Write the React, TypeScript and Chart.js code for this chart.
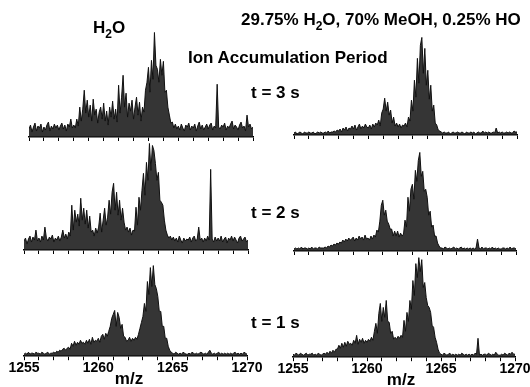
import React, { useEffect, useRef } from "react";
import { Chart, registerables } from "chart.js";

Chart.register(...registerables);

// m/z sampling grid (0.1 step) and axis tick labels
const MZ_MIN = 1255;
const MZ_MAX = 1270;
const MZ_STEP = 0.1;
const MZ: number[] = Array.from({ length: 151 }, (_, i) => +(MZ_MIN + i * MZ_STEP).toFixed(1));
const TICK_LABELS = [1255, 1260, 1265, 1270];

// Relative intensities (one row = 1 m/z unit)
// Left column: H2O ; right column: 29.75% H2O, 70% MeOH, 0.25% HOAc
const H2O_3S = [
  8, 12, 5, 10, 14, 6, 11, 9, 13, 5,
  10, 7, 12, 15, 6, 11, 8, 13, 9, 12,
  7, 11, 14, 8, 12, 6, 13, 10, 18, 9,
  12, 9, 18, 11, 30, 16, 28, 47, 24, 37,
  20, 32, 16, 38, 22, 28, 14, 25, 30, 18,
  34, 16, 26, 12, 30, 20, 36, 18, 28, 15,
  52, 24, 40, 62, 30, 44, 20, 34, 26, 37,
  18, 30, 40, 22, 35, 16, 30, 25, 47, 55,
  70, 45, 77, 58, 105, 72, 68, 55, 78, 62,
  76, 45, 47, 30, 22, 14, 15, 9, 13, 8,
  11, 7, 13, 9, 6, 12, 10, 14, 7, 11,
  9, 13, 6, 11, 15, 8, 12, 7, 10, 13,
  8, 12, 14, 7, 11, 9, 53, 10, 8, 12,
  10, 14, 7, 11, 9, 13, 16, 8, 12, 10,
  7, 12, 15, 9, 11, 6, 22, 10, 13, 8,
  10,
];
const MIX_3S = [
  2, 3, 1, 2, 3, 2, 1, 3, 2, 2,
  3, 2, 2, 3, 1, 2, 3, 2, 3, 2,
  2, 3, 2, 4, 2, 3, 3, 4, 3, 5,
  4, 6, 3, 7, 5, 8, 4, 7, 6, 9,
  6, 10, 5, 8, 11, 6, 9, 7, 11, 8,
  7, 10, 6, 11, 8, 12, 10, 15, 9, 22,
  26, 37, 24, 33, 20, 25, 12, 18, 9, 12,
  8, 11, 7, 10, 9, 12, 8, 18, 14, 35,
  24, 55, 38, 77, 52, 90, 98, 62, 87, 50,
  65, 36, 50, 24, 30, 12, 10, 5, 4, 3,
  2, 3, 2, 2, 3, 1, 2, 3, 2, 2,
  3, 2, 2, 3, 2, 1, 3, 2, 2, 3,
  2, 3, 1, 2, 3, 2, 2, 4, 2, 3,
  2, 3, 2, 2, 3, 2, 7, 2, 3, 2,
  3, 2, 2, 3, 2, 3, 2, 2, 4, 3,
  3,
];
const H2O_2S = [
  9, 12, 6, 11, 14, 8, 13, 10, 20, 9,
  12, 8, 14, 10, 23, 12, 9, 13, 11, 15,
  8, 12, 10, 14, 9, 13, 20, 12, 16, 11,
  18, 14, 45, 20, 40, 28, 36, 24, 52, 30,
  42, 26, 40, 22, 34, 18, 20, 14, 22, 17,
  23, 37, 18, 30, 42, 25, 33, 50, 36, 58,
  67, 40, 58, 35, 50, 30, 42, 28, 20, 23,
  18, 22, 15, 20, 19, 43, 25, 53, 40, 60,
  77, 55, 88, 70, 107, 80, 105, 100, 87, 70,
  78, 50, 48, 45, 30, 20, 15, 12, 14, 10,
  13, 9, 12, 8, 14, 10, 7, 12, 9, 11,
  10, 13, 8, 12, 14, 9, 11, 23, 10, 12,
  8, 12, 9, 14, 10, 81, 11, 8, 13, 9,
  12, 9, 14, 8, 11, 13, 7, 12, 10, 14,
  9, 13, 10, 7, 12, 14, 9, 11, 13, 8,
  10,
];
const MIX_2S = [
  2, 3, 2, 3, 2, 4, 2, 3, 3, 2,
  3, 2, 4, 2, 3, 3, 2, 4, 3, 3,
  3, 4, 3, 5, 4, 6, 5, 7, 6, 8,
  7, 9, 8, 11, 9, 12, 10, 13, 11, 12,
  14, 10, 13, 11, 15, 12, 14, 11, 16, 12,
  13, 11, 15, 12, 16, 14, 21, 19, 30, 46,
  51, 36, 41, 30, 27, 22, 22, 15, 20, 15,
  20, 14, 18, 15, 17, 31, 24, 54, 40, 62,
  67, 52, 81, 70, 91, 99, 75, 80, 60, 62,
  54, 36, 40, 24, 26, 15, 15, 8, 5, 3,
  3, 2, 4, 3, 2, 3, 2, 3, 4, 2,
  3, 2, 3, 4, 2, 3, 2, 3, 2, 3,
  2, 3, 2, 3, 12, 3, 2, 4, 2, 3,
  3, 2, 3, 2, 4, 2, 3, 2, 3, 2,
  2, 3, 3, 2, 3, 2, 4, 2, 3, 3,
  2,
];
const H2O_1S = [
  2, 3, 2, 4, 2, 3, 3, 2, 4, 3,
  3, 2, 4, 3, 2, 3, 4, 2, 3, 3,
  4, 3, 5, 4, 6, 5, 7, 8, 6, 8,
  9, 7, 13, 10, 15, 11, 14, 12, 16, 13,
  14, 12, 16, 13, 17, 12, 19, 14, 16, 15,
  18, 14, 20, 22, 17, 23, 20, 25, 30, 38,
  42, 46, 30, 44, 39, 28, 32, 20, 19, 15,
  16, 19, 15, 18, 16, 19, 17, 22, 28, 34,
  40, 53, 45, 75, 62, 89, 70, 91, 72, 68,
  60, 45, 45, 30, 30, 18, 18, 10, 6, 4,
  3, 2, 4, 3, 2, 3, 2, 4, 3, 2,
  2, 3, 2, 4, 3, 2, 3, 2, 3, 4,
  3, 2, 3, 2, 4, 6, 3, 2, 3, 2,
  3, 4, 2, 3, 2, 3, 2, 3, 2, 3,
  2, 3, 4, 2, 3, 2, 3, 2, 4, 3,
  2,
];
const MIX_1S = [
  3, 2, 4, 3, 2, 4, 3, 2, 3, 4,
  2, 3, 3, 4, 2, 3, 2, 4, 3, 2,
  3, 4, 3, 5, 3, 6, 4, 7, 5, 8,
  8, 12, 9, 14, 10, 15, 11, 16, 13, 14,
  12, 17, 14, 22, 13, 18, 15, 19, 14, 17,
  15, 18, 16, 20, 17, 26, 34, 24, 44, 54,
  36, 50, 40, 57, 36, 35, 24, 26, 18, 20,
  18, 21, 19, 22, 20, 37, 26, 45, 36, 57,
  48, 77, 62, 94, 80, 100, 86, 98, 70, 75,
  60, 52, 50, 45, 32, 30, 20, 15, 8, 4,
  3, 2, 4, 3, 2, 3, 4, 2, 3, 2,
  3, 2, 3, 2, 4, 3, 2, 3, 2, 3,
  2, 3, 2, 4, 3, 19, 2, 3, 2, 3,
  3, 2, 4, 3, 2, 3, 2, 5, 3, 2,
  2, 3, 2, 4, 3, 2, 4, 3, 5, 3,
  3,
];

const Y_MAX = 110; // intensity units mapped onto a 110px tall plot
const PLOT_H = 110;
const FONT = '"Liberation Sans", Arial, Helvetica, sans-serif';

type PanelProps = {
  values: number[];
  left: number;
  right: number;
  base: number;
  labels: boolean;
};

function Panel({ values, left, right, base, labels }: PanelProps) {
  const ref = useRef<HTMLCanvasElement | null>(null);
  const PAD = 24;
  const W = right - left + PAD * 2;
  const H = PLOT_H + (labels ? 22 : 5);

  useEffect(() => {
    const canvas = ref.current!;
    const chart = new Chart(canvas, {
      type: "line",
      data: {
        datasets: [
          {
            data: MZ.map((x, i) => ({ x, y: values[i] })),
            borderColor: "#111",
            backgroundColor: "rgba(25,25,25,0.88)",
            borderWidth: 1,
            pointRadius: 0,
            tension: 0,
            fill: "origin",
          },
        ],
      },
      options: {
        responsive: false,
        maintainAspectRatio: false,
        animation: false,
        events: [],
        layout: { padding: { left: PAD, right: PAD, top: 0, bottom: 0 } },
        plugins: { legend: { display: false }, tooltip: { enabled: false }, title: { display: false } },
        scales: {
          x: {
            type: "linear",
            min: MZ_MIN,
            max: MZ_MAX,
            grid: { display: true, drawOnChartArea: false, drawTicks: true, tickLength: 4, color: "#000", lineWidth: 1 },
            border: { display: true, color: "#000", width: 1.6 },
            ticks: {
              display: labels,
              stepSize: 1,
              autoSkip: false,
              maxRotation: 0,
              minRotation: 0,
              padding: 0,
              color: "#000",
              font: { family: FONT, size: 14, weight: "bold" },
              callback: (v: any) => (TICK_LABELS.includes(Number(v)) ? String(v) : ""),
            },
          },
          y: { display: false, min: 0, max: Y_MAX },
        },
      },
    });
    const ca = chart.chartArea;
    const h = ca.bottom - ca.top;
    if (Math.abs(h - PLOT_H) > 0.01) {
      (chart.options.scales as any).y.max = (Y_MAX * h) / PLOT_H;
      chart.update();
    }
    const ca2 = chart.chartArea;
    canvas.style.left = `${left - ca2.left}px`;
    canvas.style.top = `${base - ca2.bottom}px`;
    return () => chart.destroy();
  }, []);

  return (
    <canvas
      ref={ref}
      width={W}
      height={H}
      style={{ position: "absolute", left: 0, top: 0, width: W, height: H }}
    />
  );
}

const PANELS: PanelProps[] = [
  { values: H2O_3S, left: 29, right: 253, base: 137, labels: false },
  { values: MIX_3S, left: 294, right: 517, base: 135, labels: false },
  { values: H2O_2S, left: 24, right: 248, base: 250, labels: false },
  { values: MIX_2S, left: 294, right: 516, base: 251, labels: false },
  { values: H2O_1S, left: 24, right: 247, base: 356, labels: true },
  { values: MIX_1S, left: 293, right: 515, base: 357, labels: true },
];

const txt = (left: number, top: number, extra: React.CSSProperties = {}): React.CSSProperties => ({
  position: "absolute",
  left,
  top,
  fontSize: 17,
  lineHeight: "17px",
  whiteSpace: "nowrap",
  ...extra,
});

const Sub = ({ children }: { children: React.ReactNode }) => (
  <span style={{ fontSize: 12, position: "relative", top: 5 }}>{children}</span>
);

export default function App() {
  return (
    <div
      style={{
        position: "absolute",
        left: 0,
        top: 0,
        width: 530,
        height: 387,
        overflow: "hidden",
        background: "#fff",
        color: "#000",
        fontFamily: FONT,
        fontWeight: "bold",
      }}
    >
      {PANELS.map((p, i) => (
        <Panel key={i} {...p} />
      ))}
      <div style={txt(93, 19)}>
        H<Sub>2</Sub>O
      </div>
      <div style={txt(241, 11)}>
        29.75% H<Sub>2</Sub>O, 70% MeOH, 0.25% HO
      </div>
      <div style={txt(188, 49)}>Ion Accumulation Period</div>
      <div style={txt(251, 84)}>t = 3 s</div>
      <div style={txt(251, 204)}>t = 2 s</div>
      <div style={txt(251, 314)}>t = 1 s</div>
      <div style={txt(129, 370, { transform: "translateX(-50%)" })}>m/z</div>
      <div style={txt(401, 371, { transform: "translateX(-50%)" })}>m/z</div>
    </div>
  );
}
